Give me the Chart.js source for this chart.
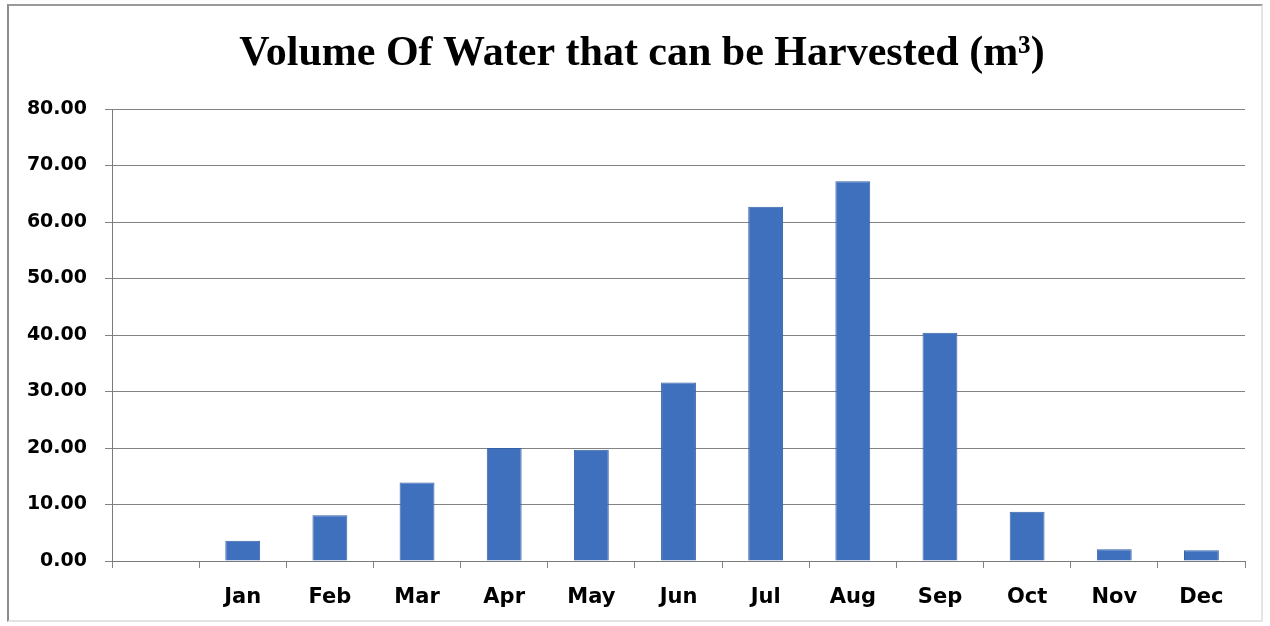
<!DOCTYPE html>
<html>
<head>
<meta charset="utf-8">
<script src="https://cdn.jsdelivr.net/npm/chart.js@4/dist/chart.umd.min.js"></script>
<style>
  html, body { margin: 0; padding: 0; background: #ffffff; }
  #wrap { position: relative; width: 1270px; height: 626px; overflow: hidden; }
  #frame {
    position: absolute; left: 7px; top: 4px; width: 1252px; height: 614px;
    border-left: 2px solid #8c8c8c; border-top: 2px solid #9a9a9a;
    border-right: 2px solid #e4e4e4; border-bottom: 2px solid #e4e4e4;
    pointer-events: none;
  }
  canvas { position: absolute; left: 0; top: 0; }
</style>
</head>
<body>
<div id="wrap">
  <canvas id="c" width="1270" height="626"></canvas>
  <div id="frame"></div>
</div>
<script>
// Monthly harvestable water volume (m³); the leading blank slot is an empty category
const months = ['', 'Jan', 'Feb', 'Mar', 'Apr', 'May', 'Jun', 'Jul', 'Aug', 'Sep', 'Oct', 'Nov', 'Dec'];
const volumes = [null, 3.6, 8.1, 13.9, 20.0, 19.7, 31.6, 62.7, 67.2, 40.4, 8.7, 2.1, 1.9];
const yTicks = { min: 0, max: 80, step: 10 };
const chartTitle = 'Volume Of Water that can be Harvested (m³)';

const gridGray = '#838383';
const yLabelFont = { family: 'DejaVu Sans', weight: 'bold', size: 19 };
const xLabelFont = { family: 'DejaVu Sans', weight: 'bold', size: 21 };

// Heading drawn centred over the plot block, serif bold like the report style
const headingPlugin = {
  id: 'heading',
  afterDraw(chart) {
    const ctx = chart.ctx;
    ctx.save();
    ctx.font = 'bold 42px "Liberation Serif"';
    ctx.fillStyle = '#000000';
    ctx.textAlign = 'center';
    ctx.textBaseline = 'alphabetic';
    ctx.fillText(chartTitle, 642, 65);
    ctx.restore();
  }
};

new Chart(document.getElementById('c'), {
  type: 'bar',
  data: {
    labels: months,
    datasets: [{
      data: volumes,
      backgroundColor: '#3f70be',
      borderColor: '#3862a6',
      borderWidth: 1,
      categoryPercentage: 1.0,
      barPercentage: 0.4
    }]
  },
  plugins: [headingPlugin],
  options: {
    responsive: false,
    animation: false,
    layout: { padding: { left: 15, right: 25, top: 109, bottom: 12 } },
    plugins: {
      legend: { display: false },
      tooltip: { enabled: false },
      title: { display: false }
    },
    scales: {
      x: {
        offset: true,
        afterFit: (scale) => { scale.height = 53; },
        grid: {
          display: true,
          offset: true,
          drawOnChartArea: false,
          drawTicks: true,
          tickLength: 7,
          color: gridGray
        },
        border: { display: true, color: '#7a7a7a', width: 1 },
        ticks: { color: '#000000', font: xLabelFont, padding: 17, maxRotation: 0 }
      },
      y: {
        min: yTicks.min,
        max: yTicks.max,
        afterFit: (scale) => { scale.width = 97; },
        grid: {
          color: gridGray,
          drawTicks: true,
          tickLength: 7
        },
        border: { display: true, color: '#7a7a7a', width: 1 },
        ticks: {
          stepSize: yTicks.step,
          color: '#000000',
          font: yLabelFont,
          padding: 18,
          callback: (v) => Number(v).toFixed(2)
        }
      }
    }
  }
});
</script>
</body>
</html>
